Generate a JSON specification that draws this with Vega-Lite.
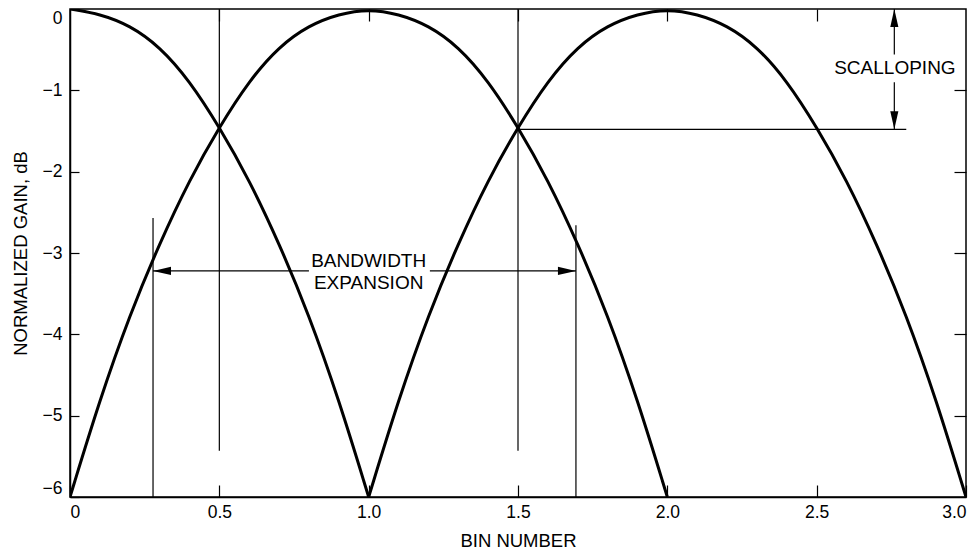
{
  "$schema": "https://vega.github.io/schema/vega-lite/v6.json",
  "width": 896,
  "height": 488,
  "autosize": {"type": "none"},
  "padding": {"left": 70, "top": 9, "right": 8, "bottom": 59},
  "background": "white",
  "config": {
    "font": "Liberation Sans",
    "view": {"stroke": "black", "strokeWidth": 1.5},
    "axis": {
      "domainColor": "black",
      "domainWidth": 1.5,
      "tickColor": "black",
      "tickWidth": 1.2,
      "labelColor": "black",
      "titleColor": "black",
      "labelFont": "Liberation Sans",
      "titleFont": "Liberation Sans",
      "labelFontSize": 17.5,
      "titleFontSize": 18.5,
      "titleFontWeight": "normal",
      "grid": false
    }
  },
  "datasets": {
    "lobes": [
      {"lobe": "A", "x": 0.0, "g": 0.0},
      {"lobe": "A", "x": 0.1, "g": -0.06},
      {"lobe": "A", "x": 0.2, "g": -0.2},
      {"lobe": "A", "x": 0.3, "g": -0.46},
      {"lobe": "A", "x": 0.4, "g": -0.88},
      {"lobe": "A", "x": 0.5, "g": -1.45},
      {"lobe": "A", "x": 0.6, "g": -2.1},
      {"lobe": "A", "x": 0.7, "g": -2.88},
      {"lobe": "A", "x": 0.8, "g": -3.76},
      {"lobe": "A", "x": 0.9, "g": -4.8},
      {"lobe": "A", "x": 1.0, "g": -6.0},
      {"lobe": "B", "x": 0.0, "g": -6.0},
      {"lobe": "B", "x": 0.1, "g": -4.8},
      {"lobe": "B", "x": 0.2, "g": -3.76},
      {"lobe": "B", "x": 0.3, "g": -2.88},
      {"lobe": "B", "x": 0.4, "g": -2.1},
      {"lobe": "B", "x": 0.5, "g": -1.45},
      {"lobe": "B", "x": 0.6, "g": -0.88},
      {"lobe": "B", "x": 0.7, "g": -0.46},
      {"lobe": "B", "x": 0.8, "g": -0.2},
      {"lobe": "B", "x": 0.9, "g": -0.06},
      {"lobe": "B", "x": 1.0, "g": 0.0},
      {"lobe": "B", "x": 1.1, "g": -0.06},
      {"lobe": "B", "x": 1.2, "g": -0.2},
      {"lobe": "B", "x": 1.3, "g": -0.46},
      {"lobe": "B", "x": 1.4, "g": -0.88},
      {"lobe": "B", "x": 1.5, "g": -1.45},
      {"lobe": "B", "x": 1.6, "g": -2.1},
      {"lobe": "B", "x": 1.7, "g": -2.88},
      {"lobe": "B", "x": 1.8, "g": -3.76},
      {"lobe": "B", "x": 1.9, "g": -4.8},
      {"lobe": "B", "x": 2.0, "g": -6.0},
      {"lobe": "C", "x": 1.0, "g": -6.0},
      {"lobe": "C", "x": 1.1, "g": -4.8},
      {"lobe": "C", "x": 1.2, "g": -3.76},
      {"lobe": "C", "x": 1.3, "g": -2.88},
      {"lobe": "C", "x": 1.4, "g": -2.1},
      {"lobe": "C", "x": 1.5, "g": -1.45},
      {"lobe": "C", "x": 1.6, "g": -0.88},
      {"lobe": "C", "x": 1.7, "g": -0.46},
      {"lobe": "C", "x": 1.8, "g": -0.2},
      {"lobe": "C", "x": 1.9, "g": -0.06},
      {"lobe": "C", "x": 2.0, "g": 0.0},
      {"lobe": "C", "x": 2.1, "g": -0.06},
      {"lobe": "C", "x": 2.2, "g": -0.2},
      {"lobe": "C", "x": 2.3, "g": -0.46},
      {"lobe": "C", "x": 2.4, "g": -0.88},
      {"lobe": "C", "x": 2.5, "g": -1.45},
      {"lobe": "C", "x": 2.6, "g": -2.1},
      {"lobe": "C", "x": 2.7, "g": -2.88},
      {"lobe": "C", "x": 2.8, "g": -3.76},
      {"lobe": "C", "x": 2.9, "g": -4.8},
      {"lobe": "C", "x": 3.0, "g": -6.0}
    ],
    "vrules": [
      {"x": 0.5, "y": 0, "y2": -5.43},
      {"x": 1.5, "y": 0, "y2": -5.43},
      {"x": 0.278, "y": -2.57, "y2": -6},
      {"x": 1.694, "y": -2.66, "y2": -6},
      {"x": 2.76, "y": 0, "y2": -0.56},
      {"x": 2.76, "y": -0.9, "y2": -1.48}
    ],
    "hrules": [
      {"x": 0.278, "x2": 0.8, "y": -3.22},
      {"x": 1.205, "x2": 1.694, "y": -3.22},
      {"x": 1.5, "x2": 2.8, "y": -1.48}
    ],
    "arrows": [
      {"dir": "left", "x": 0.278, "y": -3.22},
      {"dir": "right", "x": 1.694, "y": -3.22},
      {"dir": "up", "x": 2.76, "y": 0},
      {"dir": "down", "x": 2.76, "y": -1.48}
    ],
    "labels": [
      {"text": "BANDWIDTH", "x": 1.0, "y": -3.1},
      {"text": "EXPANSION", "x": 1.0, "y": -3.37},
      {"text": "SCALLOPING", "x": 2.762, "y": -0.726}
    ]
  },
  "resolve": {"axis": {"x": "independent", "y": "independent"}},
  "layer": [
    {
      "data": {"name": "lobes"},
      "mark": {"type": "line", "color": "black", "strokeWidth": 3, "interpolate": "basis", "clip": true},
      "encoding": {
        "x": {
          "field": "x", "type": "quantitative",
          "scale": {"domain": [0, 3], "nice": false, "zero": false},
          "axis": {
            "orient": "bottom",
            "values": [0, 0.5, 1, 1.5, 2, 2.5, 3],
            "labelExpr": "datum.value == 0 ? '0' : format(datum.value, '.1f')",
            "tickSize": -12,
            "labelPadding": 18,
            "title": "BIN NUMBER",
            "titlePadding": 11
          }
        },
        "y": {
          "field": "g", "type": "quantitative",
          "scale": {"domain": [-6, 0], "nice": false, "zero": false},
          "axis": {
            "orient": "left",
            "values": [0, -1, -2, -3, -4, -5, -6],
            "format": "d",
            "tickSize": -9,
            "labelPadding": 17,
            "labelFlush": true,
            "title": "NORMALIZED GAIN, dB",
            "titlePadding": 12
          }
        },
        "detail": {"field": "lobe", "type": "nominal"}
      }
    },
    {
      "data": {"name": "vrules"},
      "mark": {"type": "rule", "color": "black", "strokeWidth": 1.2},
      "encoding": {
        "x": {
          "field": "x", "type": "quantitative",
          "scale": {"domain": [0, 3], "nice": false, "zero": false},
          "axis": {"orient": "top", "values": [0.5, 1, 1.5, 2, 2.5], "labels": false, "domain": false, "tickSize": -12, "title": null}
        },
        "y": {
          "field": "y", "type": "quantitative",
          "scale": {"domain": [-6, 0], "nice": false, "zero": false},
          "axis": {"orient": "right", "values": [-1, -2, -3, -4, -5], "labels": false, "domain": false, "tickSize": -12, "title": null}
        },
        "y2": {"field": "y2"}
      }
    },
    {
      "data": {"name": "hrules"},
      "mark": {"type": "rule", "color": "black", "strokeWidth": 1.2},
      "encoding": {
        "x": {"field": "x", "type": "quantitative", "scale": {"domain": [0, 3], "nice": false, "zero": false}, "axis": null},
        "x2": {"field": "x2"},
        "y": {"field": "y", "type": "quantitative", "scale": {"domain": [-6, 0], "nice": false, "zero": false}, "axis": null}
      }
    },
    {
      "data": {"name": "arrows"},
      "mark": {"type": "point", "filled": true, "color": "black", "opacity": 1, "size": 324, "strokeWidth": 0},
      "encoding": {
        "x": {"field": "x", "type": "quantitative", "scale": {"domain": [0, 3], "nice": false, "zero": false}, "axis": null},
        "y": {"field": "y", "type": "quantitative", "scale": {"domain": [-6, 0], "nice": false, "zero": false}, "axis": null},
        "shape": {
          "field": "dir", "type": "nominal", "legend": null,
          "scale": {
            "domain": ["left", "right", "up", "down"],
            "range": ["M0,0L2,-0.45L2,0.45Z", "M0,0L-2,-0.45L-2,0.45Z", "M0,0L-0.45,2L0.45,2Z", "M0,0L-0.45,-2L0.45,-2Z"]
          }
        }
      }
    },
    {
      "data": {"name": "labels"},
      "mark": {"type": "text", "color": "black", "font": "Liberation Sans", "fontSize": 19, "align": "center", "baseline": "middle"},
      "encoding": {
        "x": {"field": "x", "type": "quantitative", "scale": {"domain": [0, 3], "nice": false, "zero": false}, "axis": null},
        "y": {"field": "y", "type": "quantitative", "scale": {"domain": [-6, 0], "nice": false, "zero": false}, "axis": null},
        "text": {"field": "text", "type": "nominal"}
      }
    }
  ]
}
